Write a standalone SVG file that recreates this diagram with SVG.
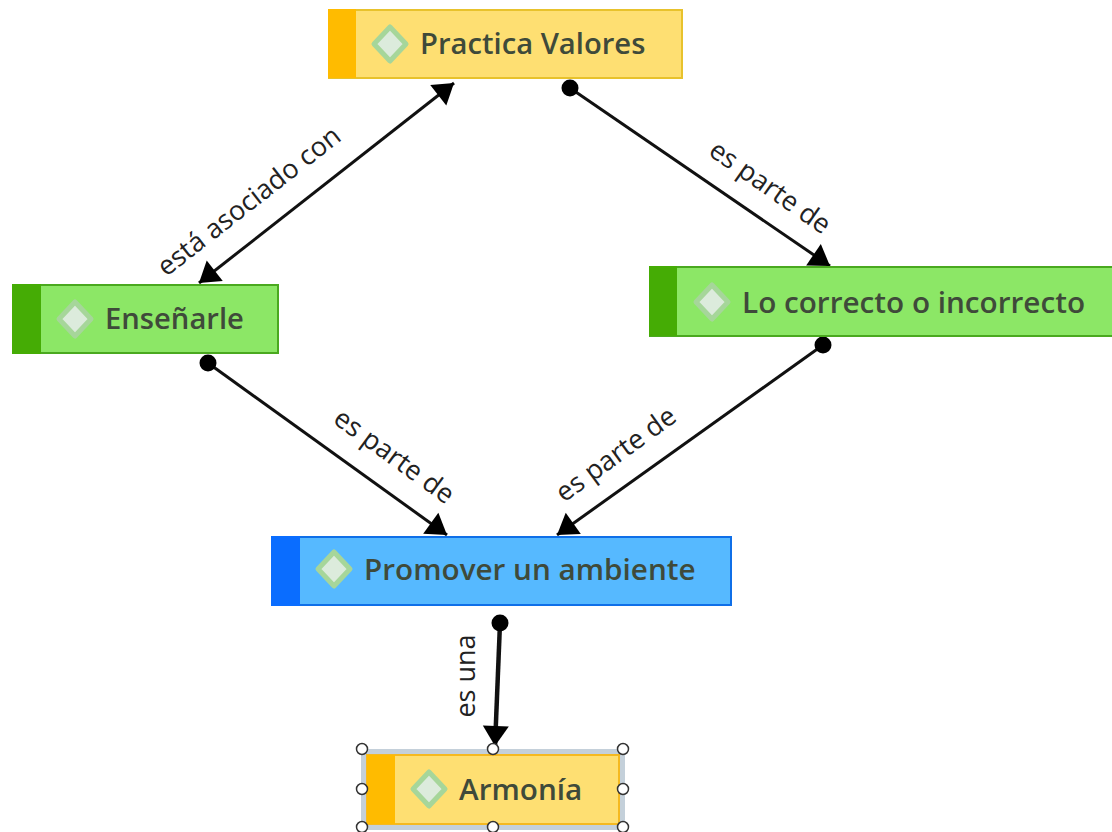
<svg xmlns="http://www.w3.org/2000/svg" width="1112" height="832" viewBox="0 0 1112 832">
<style>
text{font-family:"Open Sans","Noto Sans","Liberation Sans",sans-serif}
.t{font-size:29.7px;font-weight:600;fill:#3f4a3a;dominant-baseline:central}
.s{font-size:29.2px}
.l{font-size:27px;fill:#222;text-anchor:middle;dominant-baseline:central}
.c{stroke:#111;stroke-width:3;fill:none}
.dia{fill:#dcebdc;stroke:#a6d69a;stroke-width:5;stroke-linejoin:round}
.y{fill:#fedf72;stroke:#e8c22c;stroke-width:2}
.yb{fill:#ffbb00}
.g{fill:#8ce766;stroke:#4aa91f;stroke-width:2}
.gb{fill:#45ac05}
.b{fill:#56b9ff;stroke:#0f6fe8;stroke-width:2}
.bb{fill:#0a6dff}
.h{fill:#fff;stroke:#333;stroke-width:1.5}
</style>
<defs>
<marker id="a" markerUnits="userSpaceOnUse" markerWidth="26" markerHeight="30" refX="22" refY="14" orient="auto-start-reverse"><path d="M2 1L22 14L2 27Z" fill="#000"/></marker>
</defs>
<rect width="1112" height="832" fill="#fff"/>
<g id="connectors">
<line class="c" x1="199" y1="283" x2="454" y2="83" marker-start="url(#a)" marker-end="url(#a)"/>
<line class="c" x1="570" y1="88" x2="830" y2="266" marker-end="url(#a)"/>
<circle cx="570" cy="88" r="8.5"/>
<line class="c" x1="208" y1="363" x2="447" y2="535" marker-end="url(#a)"/>
<circle cx="208" cy="363" r="8.5"/>
<line class="c" x1="823" y1="345" x2="557" y2="535" marker-end="url(#a)"/>
<circle cx="823" cy="345" r="8.5"/>
<line class="c" style="stroke-width:4.5" x1="500" y1="623" x2="495" y2="746" marker-end="url(#a)"/>
<circle cx="500" cy="623" r="8.5"/>
<text class="l" transform="translate(248 200) rotate(-38)">está asociado con</text>
<text class="l" transform="translate(771 186) rotate(35)">es parte de</text>
<text class="l" transform="translate(395 455) rotate(36)">es parte de</text>
<text class="l" transform="translate(615 453) rotate(-36)">es parte de</text>
<text class="l" transform="translate(464 676) rotate(-90)">es una</text>
</g>
<g id="n1">
<rect class="y" x="329" y="10" width="353" height="68"/><rect class="yb" x="328" y="9" width="28" height="69"/>
<path class="dia" d="M390 27L406 44L390 61L374 44Z"/>
<text class="t s" x="420" y="43">Practica Valores</text>
</g>
<g id="n2">
<rect class="g" x="650" y="267" width="463" height="69"/><rect class="gb" x="649" y="266" width="28" height="70"/>
<path class="dia" d="M712 285L728 302L712 319L696 302Z"/>
<text class="t" x="742" y="301">Lo correcto o incorrecto</text>
</g>
<g id="n3">
<rect class="g" x="13" y="285" width="265" height="68"/><rect class="gb" x="12" y="284" width="29" height="70"/>
<path class="dia" d="M75 302L91 319L75 336L59 319Z"/>
<text class="t s" x="105" y="318">Enseñarle</text>
</g>
<g id="n4">
<rect class="b" x="272" y="537" width="459" height="68"/><rect class="bb" x="271" y="536" width="29" height="70"/>
<path class="dia" d="M334 552L350 569L334 586L318 569Z"/>
<text class="t" x="364" y="568">Promover un ambiente</text>
</g>
<g id="n5">
<rect x="361" y="749" width="264" height="81" fill="#c4d0da"/>
<rect x="367" y="755" width="252" height="69" fill="#fedf72" stroke="#f5b920" stroke-width="2"/><rect class="yb" x="367" y="755" width="28" height="69"/>
<path class="dia" d="M429 772L445 789L429 806L413 789Z"/>
<text class="t" x="459" y="788">Armonía</text>
<circle class="h" cx="362" cy="749" r="5.5"/><circle class="h" cx="493" cy="749" r="5.5"/><circle class="h" cx="623" cy="749" r="5.5"/>
<circle class="h" cx="362" cy="789" r="5.5"/><circle class="h" cx="623" cy="789" r="5.5"/>
<circle class="h" cx="362" cy="827" r="5.5"/><circle class="h" cx="493" cy="827" r="5.5"/><circle class="h" cx="623" cy="827" r="5.5"/>
</g>
</svg>
